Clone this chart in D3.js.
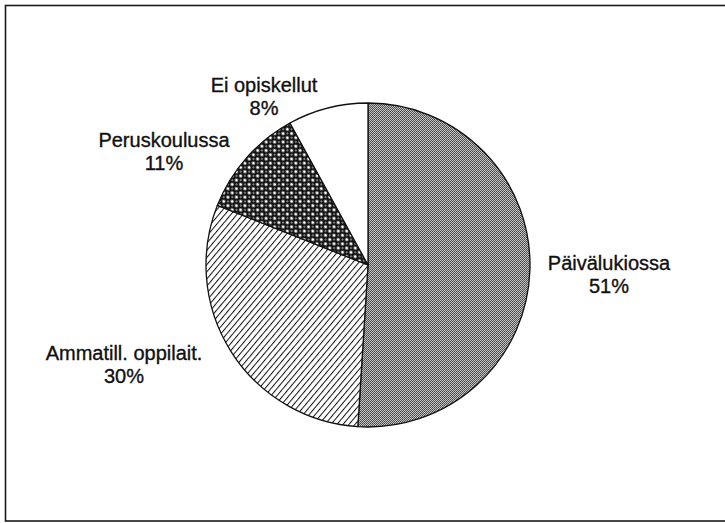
<!DOCTYPE html>
<html>
<head>
<meta charset="utf-8">
<script src="https://cdn.jsdelivr.net/npm/d3@7"></script>
<style>
  body { margin: 0; background: #fff; }
  text { font-family: "Liberation Sans", Arial, Helvetica, sans-serif; font-size: 20px; fill: #111; stroke: #111; stroke-width: 0.35; }
</style>
</head>
<body>
<div class="pie"></div>
<script>
const WIDTH = 725;
const HEIGHT = 523;

// data
const CATEGORIES = ["Päivälukiossa", "Ammatill. oppilait.", "Peruskoulussa", "Ei opiskellut"];
const VALUES = [51, 30, 11, 8];
const PATTERNS = ["dots", "hatch", "cross", "none"];

// layout
const CX = 368, CY = 265, R = 162;
const LABEL_POS = [[609, 270], [124, 360], [164, 147], [264, 92]];
const LINE_GAP = 23;

const svg = d3.select(".pie").append("svg").attr("width", WIDTH).attr("height", HEIGHT);
const defs = svg.append("defs");

// fine grey dither
const dots = defs.append("pattern").attr("id", "dots")
  .attr("patternUnits", "userSpaceOnUse").attr("width", 2).attr("height", 2);
dots.append("rect").attr("width", 2).attr("height", 2).attr("fill", "#c4c4c4");
dots.append("rect").attr("width", 1).attr("height", 1).attr("fill", "#444");
dots.append("rect").attr("x", 1).attr("y", 1).attr("width", 1).attr("height", 1).attr("fill", "#5a5a5a");

// diagonal hatch
const hatch = defs.append("pattern").attr("id", "hatch")
  .attr("patternUnits", "userSpaceOnUse").attr("width", 4.6).attr("height", 4.6)
  .attr("patternTransform", "rotate(40)");
hatch.append("rect").attr("width", 4.6).attr("height", 4.6).attr("fill", "#fff");
hatch.append("line").attr("x1", 0).attr("y1", 0).attr("x2", 0).attr("y2", 4.6)
  .attr("stroke", "#111").attr("stroke-width", 2);

// dense crosshatch with white holes
const cross = defs.append("pattern").attr("id", "cross")
  .attr("patternUnits", "userSpaceOnUse").attr("width", 6).attr("height", 6)
  .attr("patternTransform", "rotate(45)");
cross.append("rect").attr("width", 6).attr("height", 6).attr("fill", "#111");
cross.append("circle").attr("cx", 3).attr("cy", 3).attr("r", 1.6).attr("fill", "#fff");
cross.append("circle").attr("cx", 0).attr("cy", 0).attr("r", 0.8).attr("fill", "#fff");
cross.append("circle").attr("cx", 6).attr("cy", 0).attr("r", 0.8).attr("fill", "#fff");
cross.append("circle").attr("cx", 0).attr("cy", 6).attr("r", 0.8).attr("fill", "#fff");
cross.append("circle").attr("cx", 6).attr("cy", 6).attr("r", 0.8).attr("fill", "#fff");

// frame
svg.append("rect")
  .attr("x", 5.5).attr("y", 5.5).attr("width", 730).attr("height", 515.5)
  .attr("fill", "none").attr("stroke", "#1a1a1a").attr("stroke-width", 1.6);

const pie = d3.pie().sort(null).value(d => d.value);
const arc = d3.arc().innerRadius(0).outerRadius(R);
const data = CATEGORIES.map((c, i) => ({ name: c, value: VALUES[i], pattern: PATTERNS[i] }));

const g = svg.append("g").attr("transform", `translate(${CX},${CY})`);
g.selectAll("path").data(pie(data)).enter().append("path")
  .attr("d", arc)
  .attr("fill", d => d.data.pattern === "none" ? "#fff" : `url(#${d.data.pattern})`)
  .attr("stroke", "#111")
  .attr("stroke-width", 1.3)
  .attr("stroke-linejoin", "round");

// labels
const labels = svg.append("g").selectAll("text").data(data).enter().append("text")
  .attr("text-anchor", "middle")
  .attr("x", (d, i) => LABEL_POS[i][0])
  .attr("y", (d, i) => LABEL_POS[i][1]);
labels.append("tspan").text(d => d.name);
labels.append("tspan")
  .attr("x", (d, i) => LABEL_POS[i][0])
  .attr("dy", LINE_GAP)
  .text(d => d.value + "%");
</script>
</body>
</html>
